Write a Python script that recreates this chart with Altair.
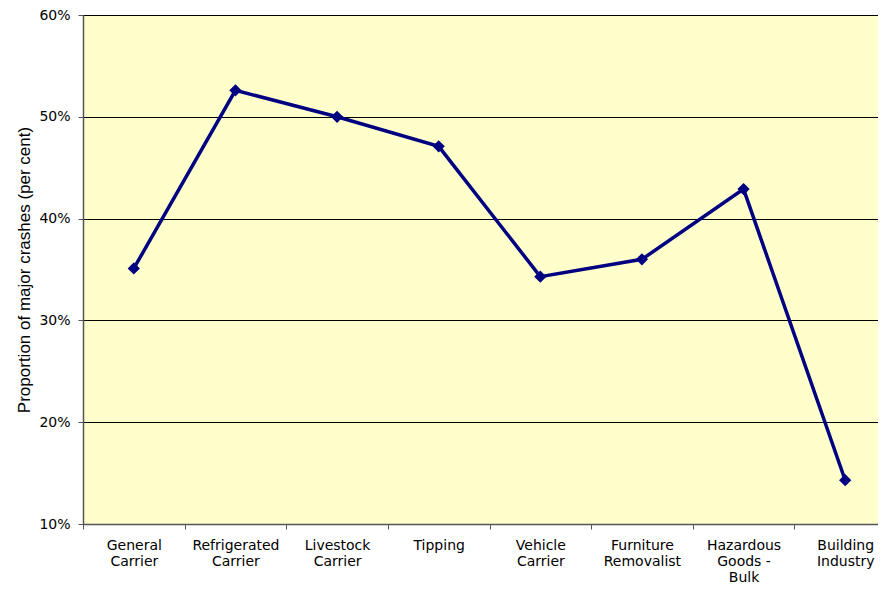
import altair as alt
import pandas as pd

categories = ["General Carrier", "Refrigerated Carrier", "Livestock Carrier", "Tipping",
              "Vehicle Carrier", "Furniture Removalist", "Hazardous Goods - Bulk", "Building Industry"]
label_lines = ["General|Carrier", "Refrigerated|Carrier", "Livestock|Carrier", "Tipping",
               "Vehicle|Carrier", "Furniture|Removalist", "Hazardous|Goods -|Bulk", "Building|Industry"]
values = [35.1, 52.6, 50.0, 47.1, 34.3, 36.0, 42.9, 14.3]
y_ticks = [0.1, 0.2, 0.3, 0.4, 0.5, 0.6]

df = pd.DataFrame({"cat": label_lines, "value": [v / 100 for v in values]})

tick_font = "DejaVu Sans"
title_font = "Liberation Sans"
axis_col = "#555555"

x = alt.X("cat:N", sort=label_lines, title=None,
          scale=alt.Scale(range=[0, 813], paddingInner=0, paddingOuter=0),
          axis=alt.Axis(labelExpr="split(datum.label, '|')", labelAngle=0, labelFont=tick_font,
                        labelFontSize=14, labelColor="black", labelPadding=9, labelLineHeight=16,
                        labelBaseline="top", tickBand="extent", tickSize=5, tickColor=axis_col,
                        domainColor=axis_col, domainWidth=1.5, grid=False, labelLimit=200))
y = alt.Y("value:Q", title="Proportion of major crashes (per cent)",
          scale=alt.Scale(domain=[0.1, 0.6], nice=False, zero=False),
          axis=alt.Axis(format=".0%", values=y_ticks, labelFont=tick_font,
                        labelFontSize=14, labelColor="black", titleFont=title_font, titleFontSize=17,
                        titleFontWeight="normal", titleColor="black", titlePadding=5,
                        tickSize=5, tickColor=axis_col, domainColor=axis_col, domainWidth=1.5,
                        grid=True, gridColor="black", gridWidth=1, labelPadding=8))

line = alt.Chart(df).mark_line(color="#000080", strokeWidth=3.5).encode(x=x, y=y)
pts = alt.Chart(df).mark_point(shape="diamond", filled=True, color="#000080", size=150, opacity=1).encode(x=x, y=y)

chart = (line + pts).properties(
    width=795, height=509,
    autosize=alt.AutoSizeParams(type="none"),
    padding={"left": 75, "top": 7, "right": 0, "bottom": 60},
).configure_view(fill="#FFFFCC", stroke="#808080", strokeWidth=1)

chart.save("out.html", embed_options={"renderer": "svg", "actions": False})
